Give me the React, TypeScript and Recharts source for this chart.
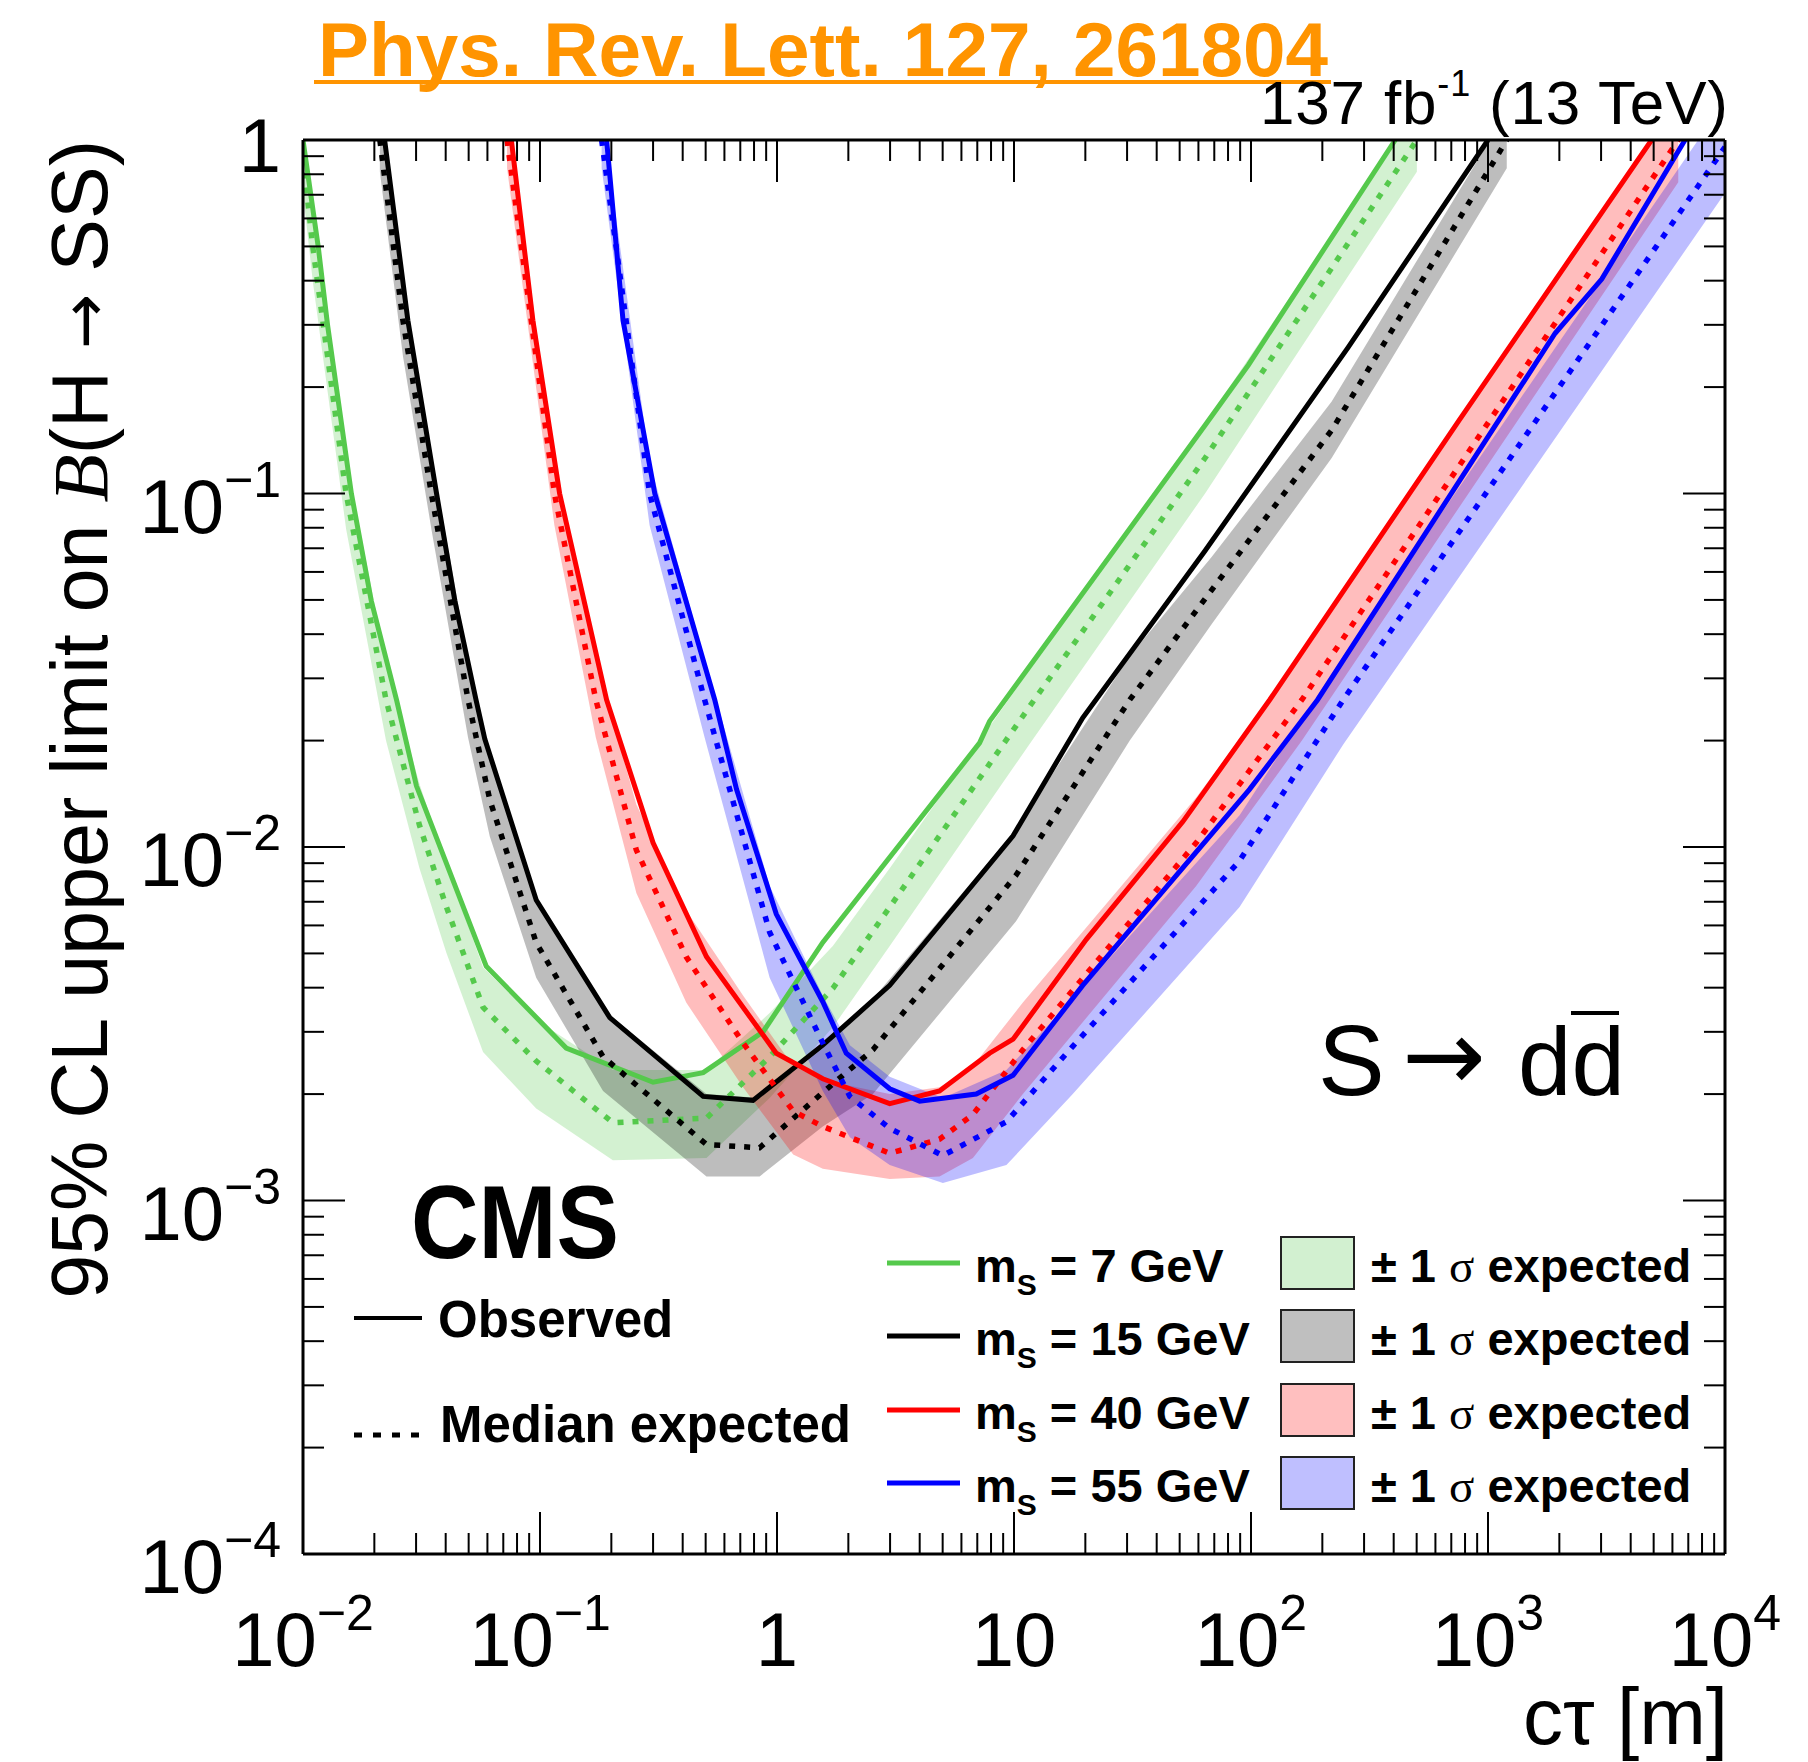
import React from "react";
import { ComposedChart, Line, Area, XAxis, YAxis } from "recharts";

// CMS, 137 fb-1: 95% CL limit on B(H -> SS) vs c*tau, S -> d dbar

// [ctau (m), observed limit]
const OBS_7: [number, number][] = [
  [0.01, 1.0], [0.0116, 0.498], [0.0127, 0.299], [0.016, 0.1], [0.0194, 0.0498],
  [0.0248, 0.0261], [0.0301, 0.0149], [0.0593, 0.0046], [0.129, 0.0027], [0.3, 0.00216],
  [0.488, 0.0023], [0.873, 0.003], [1.56, 0.00537], [7.16, 0.0197], [7.89, 0.0227],
  [64, 0.156], [97.5, 0.231], [406, 1.0],
];
// [ctau (m), median expected, -1 sigma, +1 sigma]
const EXP_7: [number, number, number, number][] = [
  [0.01, 0.891, 0.708, 1.12],
  [0.011, 0.498, 0.398, 0.617],
  [0.0152, 0.1, 0.0794, 0.126],
  [0.0224, 0.0261, 0.02, 0.0331],
  [0.031, 0.01153, 0.00871, 0.0151],
  [0.0403, 0.00676, 0.00501, 0.00891],
  [0.0575, 0.00352, 0.00263, 0.00457],
  [0.0964, 0.00248, 0.00182, 0.00324],
  [0.203, 0.00166, 0.0013, 0.00234],
  [0.504, 0.00171, 0.00132, 0.00234],
  [0.931, 0.00255, 0.00195, 0.00339],
  [1.72, 0.00398, 0.00309, 0.00525],
  [2.99, 0.00676, 0.00525, 0.00871],
  [11.6, 0.0249, 0.0195, 0.0316],
  [64, 0.126, 0.1, 0.158],
  [501, 1.0, 0.813, 1.23],
];

const OBS_15: [number, number][] = [
  [0.0221, 1.0], [0.0277, 0.309], [0.0366, 0.1], [0.0437, 0.0498], [0.0537, 0.0261],
  [0.0585, 0.0202], [0.0964, 0.00708], [0.197, 0.00329], [0.488, 0.00197], [0.792, 0.00192],
  [1.56, 0.00275], [2.99, 0.00406], [9.91, 0.01076], [19.5, 0.0232], [64, 0.0689],
  [257, 0.259], [1000, 1.0],
];
const EXP_15: [number, number, number, number][] = [
  [0.0211, 1.0, 0.813, 1.26],
  [0.0264, 0.309, 0.245, 0.398],
  [0.0348, 0.1, 0.0794, 0.129],
  [0.0497, 0.0261, 0.0204, 0.0339],
  [0.0614, 0.0136, 0.0107, 0.0182],
  [0.0964, 0.00536, 0.00427, 0.00708],
  [0.1845, 0.00255, 0.00204, 0.00347],
  [0.504, 0.00144, 0.00117, 0.002],
  [0.845, 0.00141, 0.00117, 0.00195],
  [1.56, 0.00202, 0.00162, 0.00269],
  [2.54, 0.00267, 0.002, 0.00372],
  [10.2, 0.00832, 0.00617, 0.0112],
  [30.8, 0.0261, 0.02, 0.0347],
  [68.2, 0.0533, 0.0427, 0.0661],
  [219, 0.151, 0.126, 0.182],
  [1200, 1.0, 0.832, 1.2],
];

const OBS_40: [number, number][] = [
  [0.0757, 1.0], [0.0933, 0.309], [0.121, 0.1], [0.191, 0.0261], [0.3, 0.01028],
  [0.504, 0.00489], [0.993, 0.00261], [1.56, 0.00221], [2.99, 0.00188], [4.85, 0.00204],
  [7.89, 0.00261], [9.91, 0.00286], [20.2, 0.00548], [51.6, 0.0118], [120, 0.0261],
  [750, 0.16], [4900, 1.0],
];
const EXP_40: [number, number, number, number][] = [
  [0.0726, 1.0, 0.832, 1.2],
  [0.115, 0.1, 0.0813, 0.123],
  [0.172, 0.0261, 0.0204, 0.0339],
  [0.255, 0.0098, 0.00741, 0.0132],
  [0.414, 0.00489, 0.00363, 0.00661],
  [0.719, 0.00279, 0.00209, 0.0038],
  [1.17, 0.00179, 0.00135, 0.0024],
  [1.56, 0.00162, 0.00123, 0.00219],
  [2.99, 0.00136, 0.00115, 0.002],
  [4.85, 0.00149, 0.00117, 0.00209],
  [6.71, 0.00175, 0.00132, 0.0024],
  [10.9, 0.00267, 0.002, 0.00363],
  [58.7, 0.01028, 0.00776, 0.0138],
  [164, 0.0261, 0.02, 0.0347],
  [6350, 1.0, 0.759, 1.32],
];

const OBS_55: [number, number][] = [
  [0.191, 1.0], [0.224, 0.309], [0.305, 0.1], [0.546, 0.0261], [0.675, 0.01456],
  [0.993, 0.00646], [1.56, 0.00365], [1.96, 0.00261], [2.99, 0.00207], [4.0, 0.00191],
  [6.93, 0.002], [9.91, 0.00226], [19.5, 0.00406], [98.6, 0.01456], [191, 0.0261],
  [1920, 0.284], [3020, 0.404], [6780, 1.0],
];
const EXP_55: [number, number, number, number][] = [
  [0.182, 1.0, 0.832, 1.2],
  [0.29, 0.1, 0.0813, 0.123],
  [0.495, 0.0261, 0.0204, 0.0339],
  [0.931, 0.00574, 0.00427, 0.00776],
  [1.56, 0.00279, 0.00204, 0.0038],
  [2.03, 0.00197, 0.00151, 0.00275],
  [2.99, 0.0016, 0.00126, 0.00224],
  [5.01, 0.00134, 0.00112, 0.00195],
  [9.29, 0.00167, 0.00126, 0.00234],
  [17.7, 0.00273, 0.002, 0.00372],
  [89.5, 0.00914, 0.00676, 0.0123],
  [245, 0.0261, 0.0195, 0.0347],
  [10000, 0.955, 0.708, 1.29],
];

const MASSES = ["7", "15", "40", "55"];
const COLORS = ["#55c94c", "#000000", "#ff0000", "#0000ff"];
const BOX_FILLS = ["#d2f0d0", "#bfbfbf", "#ffbfbf", "#bfbfff"];

const X_DECADES = [0.01, 0.1, 1, 10, 100, 1000];
const Y_DECADES = [0.0001, 0.001, 0.01, 0.1];
const MINOR_STEPS = [2, 3, 4, 5, 6, 7, 8, 9];

const X_TICK_LABELS: { v: number; base: string; exp: string }[] = [
  { v: 0.01, base: "10", exp: "−2" },
  { v: 0.1, base: "10", exp: "−1" },
  { v: 1, base: "1", exp: "" },
  { v: 10, base: "10", exp: "" },
  { v: 100, base: "10", exp: "2" },
  { v: 1000, base: "10", exp: "3" },
  { v: 10000, base: "10", exp: "4" },
];
const Y_TICK_LABELS: { v: number; base: string; exp: string }[] = [
  { v: 0.0001, base: "10", exp: "−4" },
  { v: 0.001, base: "10", exp: "−3" },
  { v: 0.01, base: "10", exp: "−2" },
  { v: 0.1, base: "10", exp: "−1" },
  { v: 1, base: "1", exp: "" },
];

const SANS = "'Liberation Sans', Arial, Helvetica, sans-serif";
const SERIF = "'Liberation Serif', 'Times New Roman', serif";
const ARROW = "'DejaVu Sans', sans-serif";
const ORANGE = "#ff9400";
const W = 1808;
const H = 1762;

const X_TICKS = [...X_DECADES.flatMap((d) => [d, ...MINOR_STEPS.map((m) => d * m)]), 10000];
const Y_TICKS = [...Y_DECADES.flatMap((d) => [d, ...MINOR_STEPS.map((m) => d * m)]), 1];

const isMajor = (v: number) => {
  const l = Math.log10(v);
  return Math.abs(l - Math.round(l)) < 1e-6;
};

const findLabel = (list: typeof X_TICK_LABELS, v: number) =>
  list.find((t) => Math.abs(Math.log10(t.v) - Math.log10(v)) < 1e-6);

const mkTick = (side: "bottom" | "top" | "left" | "right") => (props: any) => {
  const { x, y, payload } = props;
  const v = payload.value;
  const major = isMajor(v);
  const len = major ? 42 : 21;
  let x2 = x;
  let y2 = y;
  if (side === "bottom") y2 = y - len;
  if (side === "top") y2 = y + len;
  if (side === "left") x2 = x + len;
  if (side === "right") x2 = x - len;
  let label = null;
  if (major && side === "bottom") {
    const t = findLabel(X_TICK_LABELS, v);
    if (t)
      label = (
        <text x={x} y={1666} textAnchor="middle" fontSize={76} fontFamily={SANS} fill="#000">
          {t.base}
          {t.exp && (
            <tspan fontSize={50} dy={-36}>
              {t.exp}
            </tspan>
          )}
        </text>
      );
  }
  if (major && side === "left") {
    const t = findLabel(Y_TICK_LABELS, v);
    if (t)
      label = (
        <text x={281} y={y + (t.exp ? 39 : 32)} textAnchor="end" fontSize={76} fontFamily={SANS} fill="#000">
          {t.base}
          {t.exp && (
            <tspan fontSize={50} dy={-36}>
              {t.exp}
            </tspan>
          )}
        </text>
      );
  }
  return (
    <g>
      <line x1={x} y1={y} x2={x2} y2={y2} stroke="#000" strokeWidth={2} />
      {label}
    </g>
  );
};

const toLine = (rows: [number, number][]) => rows.map(([ct, b]) => ({ ct, b }));
const toExp = (rows: [number, number, number, number][]) => rows.map(([ct, b]) => ({ ct, b }));
const toBand = (rows: [number, number, number, number][]) =>
  rows.map(([ct, , lo, hi]) => ({ ct, band: [lo, hi] }));

const SERIES = [
  { obs: OBS_7, exp: EXP_7 },
  { obs: OBS_15, exp: EXP_15 },
  { obs: OBS_40, exp: EXP_40 },
  { obs: OBS_55, exp: EXP_55 },
].map((s, i) => ({
  id: MASSES[i],
  color: COLORS[i],
  obs: toLine(s.obs),
  exp: toExp(s.exp),
  band: toBand(s.exp),
}));

const axisLine = { stroke: "#000", strokeWidth: 3 };
const LEGEND_ROWS = [1263, 1336, 1410, 1483];

export default function App() {
  return (
    <div style={{ position: "absolute", left: 0, top: 0, width: W, height: H, background: "#fff" }}>
      <ComposedChart width={W} height={H} margin={{ top: 139, right: 82, bottom: 207, left: 302 }}>
        <XAxis
          type="number"
          dataKey="ct"
          scale="log"
          domain={[0.01, 10000]}
          allowDataOverflow
          ticks={X_TICKS}
          interval={0}
          height={1}
          tickSize={0}
          tickMargin={0}
          tickLine={false}
          axisLine={axisLine}
          tick={mkTick("bottom")}
        />
        <XAxis
          xAxisId="top"
          orientation="top"
          type="number"
          dataKey="ct"
          scale="log"
          domain={[0.01, 10000]}
          allowDataOverflow
          ticks={X_TICKS}
          interval={0}
          height={1}
          tickSize={0}
          tickMargin={0}
          tickLine={false}
          axisLine={axisLine}
          tick={mkTick("top")}
        />
        <YAxis
          type="number"
          scale="log"
          domain={[0.0001, 1]}
          allowDataOverflow
          ticks={Y_TICKS}
          interval={0}
          width={1}
          tickSize={0}
          tickMargin={0}
          tickLine={false}
          axisLine={axisLine}
          tick={mkTick("left")}
        />
        <YAxis
          yAxisId="right"
          orientation="right"
          type="number"
          scale="log"
          domain={[0.0001, 1]}
          allowDataOverflow
          ticks={Y_TICKS}
          interval={0}
          width={1}
          tickSize={0}
          tickMargin={0}
          tickLine={false}
          axisLine={axisLine}
          tick={mkTick("right")}
        />
        {SERIES.map((s) => (
          <React.Fragment key={s.id}>
            <Area
              data={s.band}
              dataKey="band"
              type="linear"
              fill={s.color}
              fillOpacity={0.26}
              stroke="none"
              dot={false}
              activeDot={false}
              isAnimationActive={false}
            />
            <Line
              data={s.exp}
              dataKey="b"
              type="linear"
              stroke={s.color}
              strokeWidth={5.5}
              strokeDasharray="6 9"
              dot={false}
              activeDot={false}
              isAnimationActive={false}
            />
            <Line
              data={s.obs}
              dataKey="b"
              type="linear"
              stroke={s.color}
              strokeWidth={5}
              dot={false}
              activeDot={false}
              isAnimationActive={false}
            />
          </React.Fragment>
        ))}
      </ComposedChart>

      <svg
        width={W}
        height={H}
        style={{ position: "absolute", left: 0, top: 0, pointerEvents: "none" }}
        fontFamily={SANS}
      >
        <text x={318} y={76} fontSize={76} fontWeight="bold" fill={ORANGE} textLength={1010} lengthAdjust="spacingAndGlyphs">
          Phys. Rev. Lett. 127, 261804
        </text>
        <rect x={314} y={80} width={1017} height={4} fill={ORANGE} />

        <text x={1728} y={124} fontSize={62} textAnchor="end" fill="#000" textLength={468} lengthAdjust="spacing">
          137 fb
          <tspan fontSize={36} dy={-28}>-1</tspan>
          <tspan dy={28}> (13 TeV)</tspan>
        </text>

        <text transform="translate(107,140) rotate(-90)" textAnchor="end" fontSize={79} fill="#000">
          95% CL upper limit on <tspan fontFamily={SERIF} fontStyle="italic">B</tspan>(H <tspan fontFamily={ARROW} fontSize={66}>→</tspan> SS)
        </text>

        <text x={1728} y={1744} fontSize={80} textAnchor="end" fill="#000">
          cτ [m]
        </text>

        <text x={411} y={1258} fontSize={104} fontWeight="bold" textLength={208} lengthAdjust="spacingAndGlyphs" fill="#000">
          CMS
        </text>

        <text x={1318} y={1095} fontSize={100} fill="#000">S</text>
        <text x={1402} y={1090} fontSize={100} fontFamily={ARROW} fill="#000">→</text>
        <text x={1518} y={1095} fontSize={96} fill="#000">dd</text>
        <rect x={1571} y={1011} width={48} height={4} fill="#000" />

        <line x1={354} x2={422} y1={1318} y2={1318} stroke="#000" strokeWidth={4} />
        <text x={438} y={1337} fontSize={51} fontWeight="bold" fill="#000">Observed</text>
        <line x1={354} x2={419} y1={1435} y2={1435} stroke="#000" strokeWidth={5} strokeDasharray="8 11" />
        <text x={440} y={1442} fontSize={51} fontWeight="bold" fill="#000">Median expected</text>

        {LEGEND_ROWS.map((ry, i) => (
          <g key={MASSES[i]}>
            <line x1={887} x2={960} y1={ry} y2={ry} stroke={COLORS[i]} strokeWidth={5} />
            <text x={975} y={ry + 18.5} fontSize={47} fontWeight="bold" fill="#000">
              m
              <tspan fontSize={30} dy={13}>S</tspan>
              <tspan dy={-13}>{` = ${MASSES[i]} GeV`}</tspan>
            </text>
            <rect x={1281} y={ry - 26} width={73} height={52} fill={BOX_FILLS[i]} stroke="#222" strokeWidth={2} />
            <text x={1371} y={ry + 18.5} fontSize={47} fontWeight="bold" fill="#000">
              ± 1 <tspan fontFamily={SERIF} fontWeight="normal">σ</tspan> expected
            </text>
          </g>
        ))}
      </svg>
    </div>
  );
}
